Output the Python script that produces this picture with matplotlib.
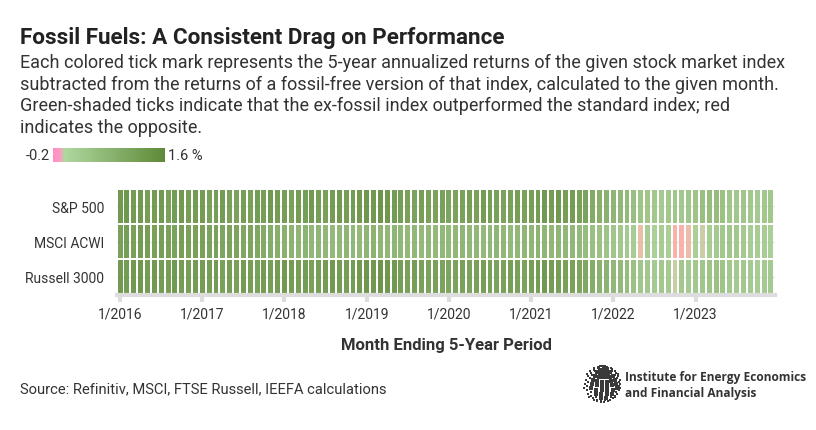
import numpy as np
import matplotlib.pyplot as plt
from matplotlib.colors import LinearSegmentedColormap

plt.rcParams['font.family'] = ['Roboto', 'DejaVu Sans']

rows = ['S&P 500', 'MSCI ACWI', 'Russell 3000']
year_ticks = ['1/2016', '1/2017', '1/2018', '1/2019', '1/2020', '1/2021', '1/2022', '1/2023']

# monthly values Jan 2016 .. Dec 2023 (ex-fossil minus standard, % pts)
sp500 = [1.45, 1.5, 1.4, 1.45, 1.35, 1.4, 1.45, 1.3, 1.4, 1.45, 1.35, 1.4,
         1.4, 1.3, 1.35, 1.4, 1.3, 1.25, 1.35, 1.3, 1.4, 1.35, 1.45, 1.4,
         1.35, 1.3, 1.4, 1.35, 1.45, 1.35, 1.3, 1.4, 1.45, 1.35, 1.4, 1.45,
         1.5, 1.45, 1.55, 1.5, 1.4, 1.35, 1.3, 1.25, 1.35, 1.3, 1.25, 1.3,
         1.2, 1.25, 1.3, 1.35, 1.3, 1.4, 1.35, 1.3, 1.25, 1.3, 1.35, 1.3,
         1.35, 1.4, 1.45, 1.4, 1.45, 1.35, 1.4, 1.3, 1.25, 1.1, 1.0, 0.95,
         0.85, 0.8, 0.75, 0.65, 0.55, 0.5, 0.45, 0.4, 0.45, 0.5, 0.45, 0.5,
         0.55, 0.65, 0.7, 0.7, 0.6, 0.5, 0.45, 0.5, 0.45, 0.4, 0.45, 0.45]
msci = [1.3, 1.35, 1.3, 1.4, 1.35, 1.3, 1.35, 1.3, 1.25, 1.35, 1.3, 1.3,
        1.3, 1.25, 1.3, 1.2, 1.25, 1.2, 1.15, 1.2, 1.15, 1.1, 1.05, 1.0,
        0.95, 0.9, 0.85, 0.9, 0.8, 0.85, 0.8, 0.75, 0.8, 0.85, 0.8, 0.75,
        0.85, 0.9, 0.85, 0.8, 0.85, 0.8, 0.75, 0.8, 0.75, 0.8, 0.75, 0.8,
        0.75, 0.8, 0.85, 0.8, 0.8, 0.75, 0.8, 0.85, 0.8, 0.75, 0.8, 0.85,
        0.85, 0.9, 0.85, 0.8, 0.85, 0.8, 0.8, 0.75, 0.7, 0.65, 0.6, 0.55,
        0.5, 0.45, 0.4, 0.35, -0.05, 0.35, 0.3, 0.35, 0.3, -0.15, -0.17, -0.07,
        0.3, 0.02, 0.35, 0.4, 0.45, 0.5, 0.45, 0.4, 0.35, 0.35, 0.35, 0.3]
russell = [1.45, 1.4, 1.45, 1.5, 1.4, 1.45, 1.4, 1.35, 1.45, 1.4, 1.35, 1.4,
           1.4, 1.35, 1.4, 1.3, 1.35, 1.3, 1.4, 1.35, 1.3, 1.4, 1.35, 1.4,
           1.45, 1.4, 1.35, 1.4, 1.3, 1.35, 1.4, 1.45, 1.4, 1.35, 1.4, 1.45,
           1.5, 1.45, 1.55, 1.5, 1.45, 1.35, 1.3, 1.35, 1.3, 1.25, 1.3, 1.25,
           1.2, 1.25, 1.3, 1.25, 1.3, 1.35, 1.3, 1.25, 1.3, 1.35, 1.3, 1.25,
           1.35, 1.4, 1.45, 1.4, 1.35, 1.3, 1.3, 1.2, 1.15, 1.05, 0.95, 0.9,
           0.8, 0.75, 0.7, 0.6, 0.5, 0.45, 0.4, 0.45, 0.4, 0.03, 0.45, 0.4,
           0.45, 0.5, 0.55, 0.6, 0.55, 0.45, 0.4, 0.45, 0.4, 0.35, 0.4, 0.4]
vmin, vmax = -0.2, 1.6

W, H = 816, 431
fig = plt.figure(figsize=(W / 100, H / 100), dpi=100)

def fx(px):
    return px / W

def fy(py):
    return 1 - py / H

cmap = LinearSegmentedColormap.from_list(
    'ff', [(0.0, '#ffa6a6'), (0.08, '#e9b9a0'), (0.115, '#c9c9a0'),
           (0.18, '#acd49a'), (1.0, '#5e8a38')])
legend_cmap = LinearSegmentedColormap.from_list(
    'leg', [(0.0, '#ff8fc6'), (0.06, '#ff99c4'), (0.1, '#b0d8a0'), (1.0, '#5e8a38')])

ax = fig.add_axes([fx(117), fy(296), fx(775) - fx(117), fy(189) - fy(296)])
for r, vals in enumerate([sp500, msci, russell]):
    ax.axhline(r, color='#e8e8e8', lw=1, zorder=0)
    x = np.arange(len(vals))
    cols = cmap((np.array(vals) - vmin) / (vmax - vmin))
    ax.bar(x, 0.93, bottom=r - 0.465, width=0.72, color=cols, alpha=0.92, zorder=2)

ax.set_xlim(-0.45, 95.6)
ax.set_ylim(2.52, -0.52)
ax.set_yticks(range(3))
ax.set_yticklabels(rows, fontsize=10, color='#333333')
ax.set_xticks(np.arange(0, 96, 12))
ax.set_xticklabels(year_ticks, fontsize=10, color='#333333')
ax.tick_params(axis='y', length=0, pad=9)
ax.tick_params(axis='x', length=5, width=3, color='#dddddd', pad=3)
for s in ['top', 'right', 'left']:
    ax.spines[s].set_visible(False)
ax.spines['bottom'].set_color('#dddddd')
ax.spines['bottom'].set_linewidth(3)
ax.set_xlabel('Month Ending 5-Year Period', fontsize=12, fontweight='bold',
              color='#333333', labelpad=12)

fig.text(fx(20), fy(38), 'Fossil Fuels: A Consistent Drag on Performance',
         fontsize=16.2, fontweight='bold', color='#222222', va='center')
sub = ['Each colored tick mark represents the 5-year annualized returns of the given stock market index',
       'subtracted from the returns of a fossil-free version of that index, calculated to the given month.',
       'Green-shaded ticks indicate that the ex-fossil index outperformed the standard index; red',
       'indicates the opposite.']
for i, line in enumerate(sub):
    fig.text(fx(20), fy(63 + i * 21.7), line, fontsize=13, color='#333333', va='center')

# colour legend
lax = fig.add_axes([fx(53), fy(163), fx(165) - fx(53), fy(149) - fy(163)])
grad = np.linspace(vmin, vmax, 256).reshape(1, -1)
lax.imshow(grad, aspect='auto', cmap=legend_cmap, vmin=vmin, vmax=vmax, extent=[vmin, vmax, 0, 1])
lax.set_axis_off()
fig.text(fx(50), fy(156), '-0.2', fontsize=10.5, color='#333333', ha='right', va='center')
fig.text(fx(168), fy(156), '1.6 %', fontsize=10.5, color='#333333', ha='left', va='center')

fig.text(fx(20), fy(389), 'Source: Refinitiv, MSCI, FTSE Russell, IEEFA calculations',
         fontsize=10.6, color='#333333', va='center')

# IEEFA globe mark
gax = fig.add_axes([fx(582), fy(406), fx(622) - fx(582), fy(364) - fy(406)])
gax.set_xlim(-1.1, 1.1)
gax.set_ylim(-1.1, 1.1)
gax.set_aspect('equal')
gax.set_axis_off()
tilt = np.radians(25)
for lat in np.radians(np.arange(-80, 90, 14)):
    for lon in np.radians(np.arange(-180, 180, 18) + 9):
        x0 = np.cos(lat) * np.sin(lon)
        y0 = np.sin(lat)
        z0 = np.cos(lat) * np.cos(lon)
        py = y0 * np.cos(tilt) - z0 * np.sin(tilt)
        pz = y0 * np.sin(tilt) + z0 * np.cos(tilt)
        if pz > 0.05:
            gax.scatter(x0 + 0.15 * pz, py, s=7 * pz + 0.5, marker='s', color='#3a3a3a', lw=0)
fig.text(fx(625), fy(378), 'Institute for Energy Economics', fontsize=8.6,
         fontweight='bold', color='#333333', va='center', family=['Open Sans', 'DejaVu Sans'])
fig.text(fx(625), fy(394), 'and Financial Analysis', fontsize=8.6,
         fontweight='bold', color='#333333', va='center', family=['Open Sans', 'DejaVu Sans'])

fig.savefig('out.png', dpi=100)
